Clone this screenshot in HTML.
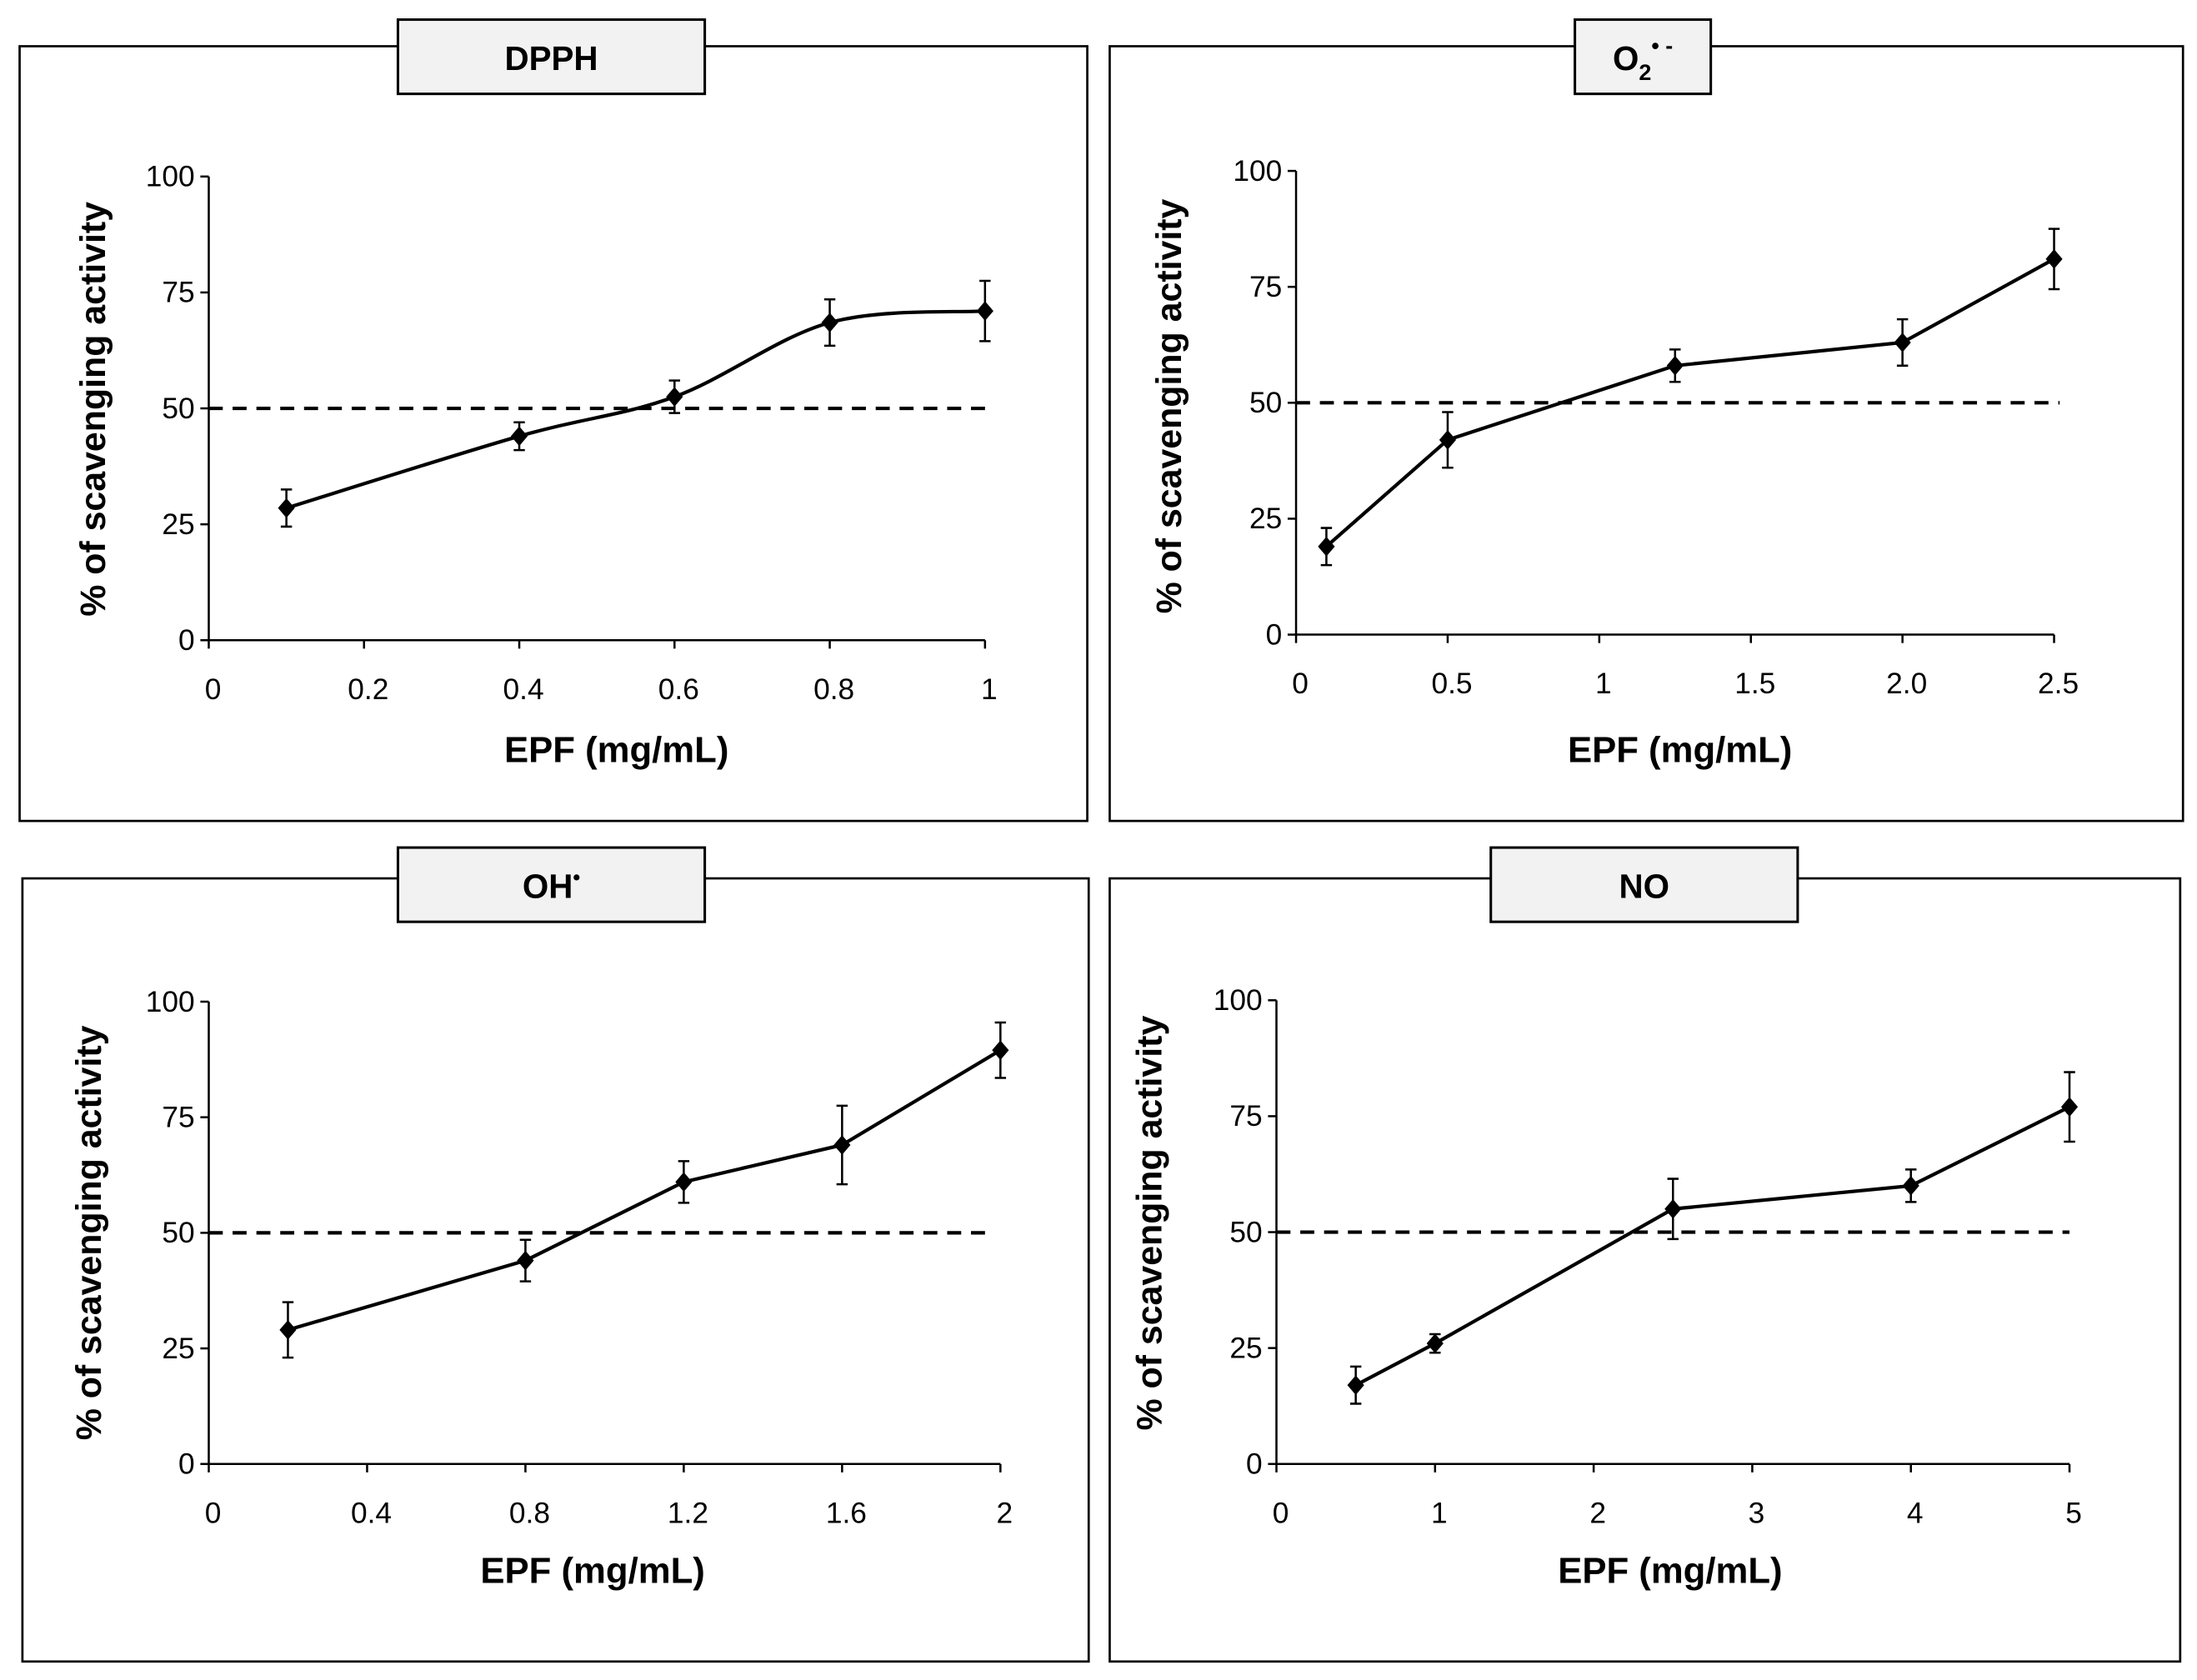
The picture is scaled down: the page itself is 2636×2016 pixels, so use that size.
<!DOCTYPE html>
<html><head><meta charset="utf-8"><style>
html,body{margin:0;padding:0;background:#fff;}
svg{display:block;}
text{font-family:"Liberation Sans",sans-serif;fill:#000;}
</style></head><body>
<svg id="fig" width="2636" height="2016" viewBox="0 0 1568 1199.2" xmlns="http://www.w3.org/2000/svg"></svg>
<script>
// Panel A: DPPH
const dpphX = [0.1, 0.4, 0.6, 0.8, 1.0];
const dpphY = [28.5, 44, 52.5, 68.5, 71];
const dpphErr = [4, 3, 3.5, 5, 6.5];
const dpphTicks = ["0","0.2","0.4","0.6","0.8","1"];
const dpphTickVals = [0,0.2,0.4,0.6,0.8,1];
// Panel B: superoxide
const supX = [0.1, 0.5, 1.25, 2.0, 2.5];
const supY = [19, 42, 58, 63, 81];
const supErr = [4, 6, 3.5, 5, 6.5];
const supTicks = ["0","0.5","1","1.5","2.0","2.5"];
const supTickVals = [0,0.5,1,1.5,2,2.5];
// Panel C: hydroxyl
const ohX = [0.2, 0.8, 1.2, 1.6, 2.0];
const ohY = [29, 44, 61, 69, 89.5];
const ohErr = [6, 4.5, 4.5, 8.5, 6];
const ohTicks = ["0","0.4","0.8","1.2","1.6","2"];
const ohTickVals = [0,0.4,0.8,1.2,1.6,2];
// Panel D: NO
const noX = [0.5, 1, 2.5, 4, 5];
const noY = [17, 26, 55, 60, 77];
const noErr = [4, 2, 6.5, 3.5, 7.5];
const noTicks = ["0","1","2","3","4","5"];
const noTickVals = [0,1,2,3,4,5];
const yTickVals = [0,25,50,75,100];
const threshold = 50;

const NS="http://www.w3.org/2000/svg";
const svg=document.getElementById('fig');
function mk(tag,attrs,parent){const e=document.createElementNS(NS,tag);for(const k in attrs)e.setAttribute(k,attrs[k]);(parent||svg).appendChild(e);return e;}

function panel(cfg){
  const g=mk('g',{});
  
  
  const f=cfg.frame;
  const fr=mk('rect',{x:f[0],y:f[1],width:f[2]-f[0],height:f[3]-f[1],fill:'none',stroke:'#000','stroke-width':1.6},g);
  
  
  const t=cfg.title;
  const tb=mk('rect',{x:t[0],y:t[1],width:t[2]-t[0],height:t[3]-t[1],fill:'#f2f2f2',stroke:'#000','stroke-width':1.8},g);
  
  
  const tt=mk('text',{x:(t[0]+t[2])/2,y:t[3]-17,'text-anchor':'middle','font-size':24,'font-weight':'bold'},g);
  tt.innerHTML=cfg.titleHtml;
  
  
  const [x0,x1,xmax,y0,y100]=cfg.axis;
  const sx=v=>x0+(x1-x0)*v/xmax;
  const sy=v=>y0+(y100-y0)*v/100;
  const ax=mk('line',{x1:x0,y1:y100,x2:x0,y2:y0,stroke:'#000','stroke-width':1.5},g);
  
  
  const axx=mk('line',{x1:x0,y1:y0,x2:x1,y2:y0,stroke:'#000','stroke-width':1.5},g);
  
  
  yTickVals.forEach(v=>{
    mk('line',{x1:x0-6,y1:sy(v),x2:x0,y2:sy(v),stroke:'#000','stroke-width':1.5},g);
    const l=mk('text',{x:x0-10,y:sy(v)+7,'text-anchor':'end','font-size':21},g);
    l.textContent=v;
    
    
  });
  cfg.tickVals.forEach((v,i)=>{
    mk('line',{x1:sx(v),y1:y0,x2:sx(v),y2:y0+6,stroke:'#000','stroke-width':1.5},g);
    const l=mk('text',{x:sx(v)+3,y:y0+42,'text-anchor':'middle','font-size':21},g);
    l.textContent=cfg.ticks[i];
    
    
  });
  const xl=mk('text',{x:cfg.xlab[0],y:cfg.xlab[1],'text-anchor':'middle','font-size':26,'font-weight':'bold'},g);
  xl.textContent='EPF (mg/mL)';
  
  
  const yl=mk('text',{x:0,y:0,'text-anchor':'middle','font-size':25.5,'font-weight':'bold',transform:`translate(${cfg.ylab[0]},${cfg.ylab[1]}) rotate(-90)`},g);
  yl.textContent='% of scavenging activity';
  
  
  const dl=mk('line',{x1:x0,y1:sy(threshold),x2:cfg.dashEnd,y2:sy(threshold),stroke:'#000','stroke-width':2.5,'stroke-dasharray':'10,7'},g);
  
  
  const pts=cfg.xs.map((v,i)=>[sx(v),sy(cfg.ys[i])]);
  let d='M'+pts[0][0]+','+pts[0][1];
  if(cfg.smooth){
    for(let i=0;i<pts.length-1;i++){
      const p0=pts[Math.max(i-1,0)],p1=pts[i],p2=pts[i+1],p3=pts[Math.min(i+2,pts.length-1)];
      const c1=[p1[0]+(p2[0]-p0[0])/6,p1[1]+(p2[1]-p0[1])/6];
      const c2=[p2[0]-(p3[0]-p1[0])/6,p2[1]-(p3[1]-p1[1])/6];
      d+=` C${c1[0]},${c1[1]} ${c2[0]},${c2[1]} ${p2[0]},${p2[1]}`;
    }
  } else {
    for(let i=1;i<pts.length;i++) d+=` L${pts[i][0]},${pts[i][1]}`;
  }
  const ln=mk('path',{d:d,fill:'none',stroke:'#000','stroke-width':2.5},g);
  
  
  pts.forEach((p,i)=>{
    const e=cfg.errs[i];
    const yt=sy(cfg.ys[i]+e), yb=sy(cfg.ys[i]-e);
    const eb=mk('path',{d:`M${p[0]},${yt} L${p[0]},${yb} M${p[0]-4},${yt} L${p[0]+4},${yt} M${p[0]-4},${yb} L${p[0]+4},${yb}`,stroke:'#000','stroke-width':1.5,fill:'none'},g);
    
    
    const m=mk('path',{d:`M${p[0]},${p[1]-7} L${p[0]+6},${p[1]} L${p[0]},${p[1]+7} L${p[0]-6},${p[1]} Z`,fill:'#000'},g);
    
    
  });
}
panel({name:'dpph',frame:[14,33,776,586],title:[284,14,503,67],titleHtml:'DPPH',
  axis:[149,703,1,457,126],ticks:dpphTicks,tickVals:dpphTickVals,xs:dpphX,ys:dpphY,errs:dpphErr,
  xlab:[440,544],ylab:[75,292],dashEnd:710,smooth:true});
panel({name:'superoxide',frame:[792,33,1558,586],title:[1124,14,1221,67],
  titleHtml:'O<tspan font-size="16" dy="7">2</tspan><tspan font-size="16" dy="-19">• -</tspan>',
  axis:[925,1466,2.5,453,122],ticks:supTicks,tickVals:supTickVals,xs:supX,ys:supY,errs:supErr,
  xlab:[1199,544],ylab:[843,290],dashEnd:1470,smooth:false});
panel({name:'hydroxyl',frame:[16,627,777,1186],title:[284,605,503,658],
  titleHtml:'OH<tspan font-size="15" dy="-10">•</tspan>',
  axis:[149,714,2,1045,715],ticks:ohTicks,tickVals:ohTickVals,xs:ohX,ys:ohY,errs:ohErr,
  xlab:[423,1130],ylab:[72,880],dashEnd:710,smooth:false});
panel({name:'nitric-oxide',frame:[792,627,1556,1186],title:[1064,605,1283,658],titleHtml:'NO',
  axis:[911,1477,5,1045,714],ticks:noTicks,tickVals:noTickVals,xs:noX,ys:noY,errs:noErr,
  xlab:[1192,1130],ylab:[829,873],dashEnd:1477,smooth:false});
</script>
</body></html>
